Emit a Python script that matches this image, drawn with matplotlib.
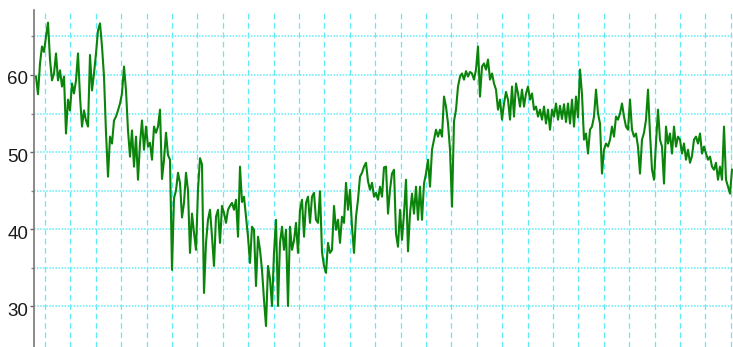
import matplotlib
matplotlib.use("Agg")
import matplotlib.pyplot as plt
from matplotlib.ticker import FixedLocator, NullFormatter
from matplotlib import transforms
import numpy as np

# Price series, sampled at equal steps
prices_1 = [59.8, 57.5, 61.5, 63.7, 63.0, 65.0, 66.8, 62.0, 59.3, 60.2, 62.8, 59.3, 60.6, 58.5, 59.8, 52.4,
            56.8, 55.4, 58.9, 57.6, 59.3, 62.8, 57.2, 53.3, 55.4, 54.1, 53.3, 62.6, 58.0, 60.2, 62.8, 65.8,
            66.7, 63.7, 59.8, 52.5, 46.8, 52.0, 51.1, 54.1, 54.6, 55.4, 56.3, 57.6, 61.1, 58.0, 52.8, 49.4,
            52.8, 48.1, 52.0, 46.4, 51.1, 54.1, 50.3, 53.3, 50.7, 51.2, 49.0, 53.3, 52.5, 53.3, 55.5, 46.5,
            49.0, 52.5, 49.6, 49.0, 34.7, 44.0, 45.0, 47.3, 46.0, 41.5, 43.4, 47.3, 45.0, 36.9, 42.0, 39.5,
            37.3, 45.1, 49.2, 48.4, 31.7, 38.2, 41.2, 42.5, 39.0]
prices_2 = [35.2, 41.6, 42.5, 38.2, 43.0, 42.1, 40.8, 42.5, 43.0, 43.4, 42.5, 43.8, 39.0, 48.1, 43.5, 44.2,
            41.6, 39.0, 35.6, 40.3, 39.9, 32.6, 39.0, 37.3, 34.7, 30.8, 27.4, 35.2, 33.5, 30.0, 36.9, 41.2,
            30.0, 38.2, 40.3, 37.3, 39.9, 30.0, 40.3, 37.3, 38.5, 40.8, 36.9, 42.5, 43.8, 39.0, 43.4, 44.2,
            40.8, 44.2, 44.7, 41.2, 40.8, 44.9, 37.0, 35.2, 34.3, 38.2, 36.9, 37.3, 43.0, 39.9, 41.2, 38.2,
            41.6, 40.8, 46.0, 42.5, 45.1, 40.3, 36.9, 41.6, 43.8, 46.8, 47.3, 48.1, 48.6, 46.2, 45.1, 46.0,
            44.2, 44.7, 43.8, 45.5, 44.2, 48.0, 48.1]
prices_3 = [42.0, 45.1, 47.2, 47.7, 39.4, 37.7, 42.5, 38.6, 42.0, 46.4, 37.1, 42.0, 44.6, 42.0, 45.5, 41.2,
            45.5, 41.2, 45.9, 47.2, 49.0, 45.5, 50.3, 51.6, 52.9, 52.0, 52.9, 52.0, 57.2, 55.9, 53.7, 50.3,
            42.9, 54.0, 55.5, 58.5, 59.8, 60.2, 59.4, 60.5, 59.8, 60.4, 60.2, 59.4, 60.7, 63.7, 57.2, 61.1,
            61.5, 60.7, 62.0, 59.4, 60.2, 58.9, 58.1, 55.5, 56.8, 54.2, 56.3, 57.8, 56.8, 54.2, 58.5, 54.6,
            58.9, 57.6, 55.9, 58.1, 55.9, 57.6, 58.5, 56.8, 57.6, 55.5, 55.9, 54.6, 55.5, 54.2, 55.9, 53.7,
            55.5, 52.9, 55.5, 54.6, 56.3, 54.2, 56.0, 54.3]
prices_4 = [56.2, 53.9, 56.3, 53.7, 56.8, 53.3, 57.2, 54.5, 60.7, 57.5, 51.6, 52.4, 49.8, 52.9, 53.3, 54.6,
            58.1, 55.0, 53.7, 47.2, 50.3, 51.1, 50.7, 51.6, 53.3, 52.0, 54.6, 54.2, 55.0, 56.3, 54.6, 53.3,
            52.9, 56.8, 52.9, 52.0, 52.4, 50.7, 47.2, 51.6, 52.5, 54.2, 58.1, 52.4, 47.7, 46.4, 51.2, 55.5,
            51.6, 50.7, 45.9, 53.3, 51.1, 52.4, 49.8, 53.3, 50.7, 52.0, 51.6, 49.8, 51.1, 49.0, 50.3, 48.6,
            49.5, 51.6, 52.0, 51.1, 52.4, 49.8, 50.7, 49.8, 49.0, 49.4, 48.1, 47.7, 48.6, 46.4, 48.1, 46.4,
            53.3, 46.4, 45.5, 44.6, 47.7]

y_major = [30, 40, 50, 60]
y_minor = [35, 45, 55, 65]
y_labels = ["30", "40", "50", "60"]

prices = np.array(prices_1 + prices_2 + prices_3 + prices_4)
t = np.arange(len(prices))

fig = plt.figure(figsize=(7.33, 3.47), dpi=100)
ax = fig.add_axes([34 / 733, 0.0, 699 / 733, 337 / 347])

ax.set_xlim(-1, 348.5)
ax.set_ylim(24.68, 68.44)

grid_col = "#5fecf6"
# vertical dashed grid
for xv in np.arange(4.5, 349, 12.7):
    ax.axvline(xv, color=grid_col, lw=0.9, dashes=(4.5, 3), zorder=1)
# horizontal dotted grid
for yv in y_major + y_minor:
    ax.axhline(yv, color=grid_col, lw=1.1, dashes=(1, 1), zorder=1)

ax.plot(t, prices, color="#0a840a", lw=1.5, zorder=3)

ax.yaxis.set_major_locator(FixedLocator(y_major))
ax.yaxis.set_minor_locator(FixedLocator(y_minor))
ax.set_yticklabels(y_labels, family=["Liberation Sans Narrow", "Liberation Sans", "DejaVu Sans"],
                   fontsize=13.5, color="#1a1a1a")
ax.yaxis.set_minor_formatter(NullFormatter())
ax.tick_params(axis="y", which="major", length=3, width=1, color="#666666", pad=1)
ax.tick_params(axis="y", which="minor", length=2, width=1, color="#888888")
ax.set_xticks([])

offset = transforms.ScaledTranslation(0, -3 / 100, fig.dpi_scale_trans)
for lab in ax.get_yticklabels():
    lab.set_transform(lab.get_transform() + offset)

for side in ["top", "right", "bottom"]:
    ax.spines[side].set_visible(False)
ax.spines["left"].set_color("#777777")
ax.spines["left"].set_linewidth(1.2)

fig.savefig("out.png", dpi=100)
